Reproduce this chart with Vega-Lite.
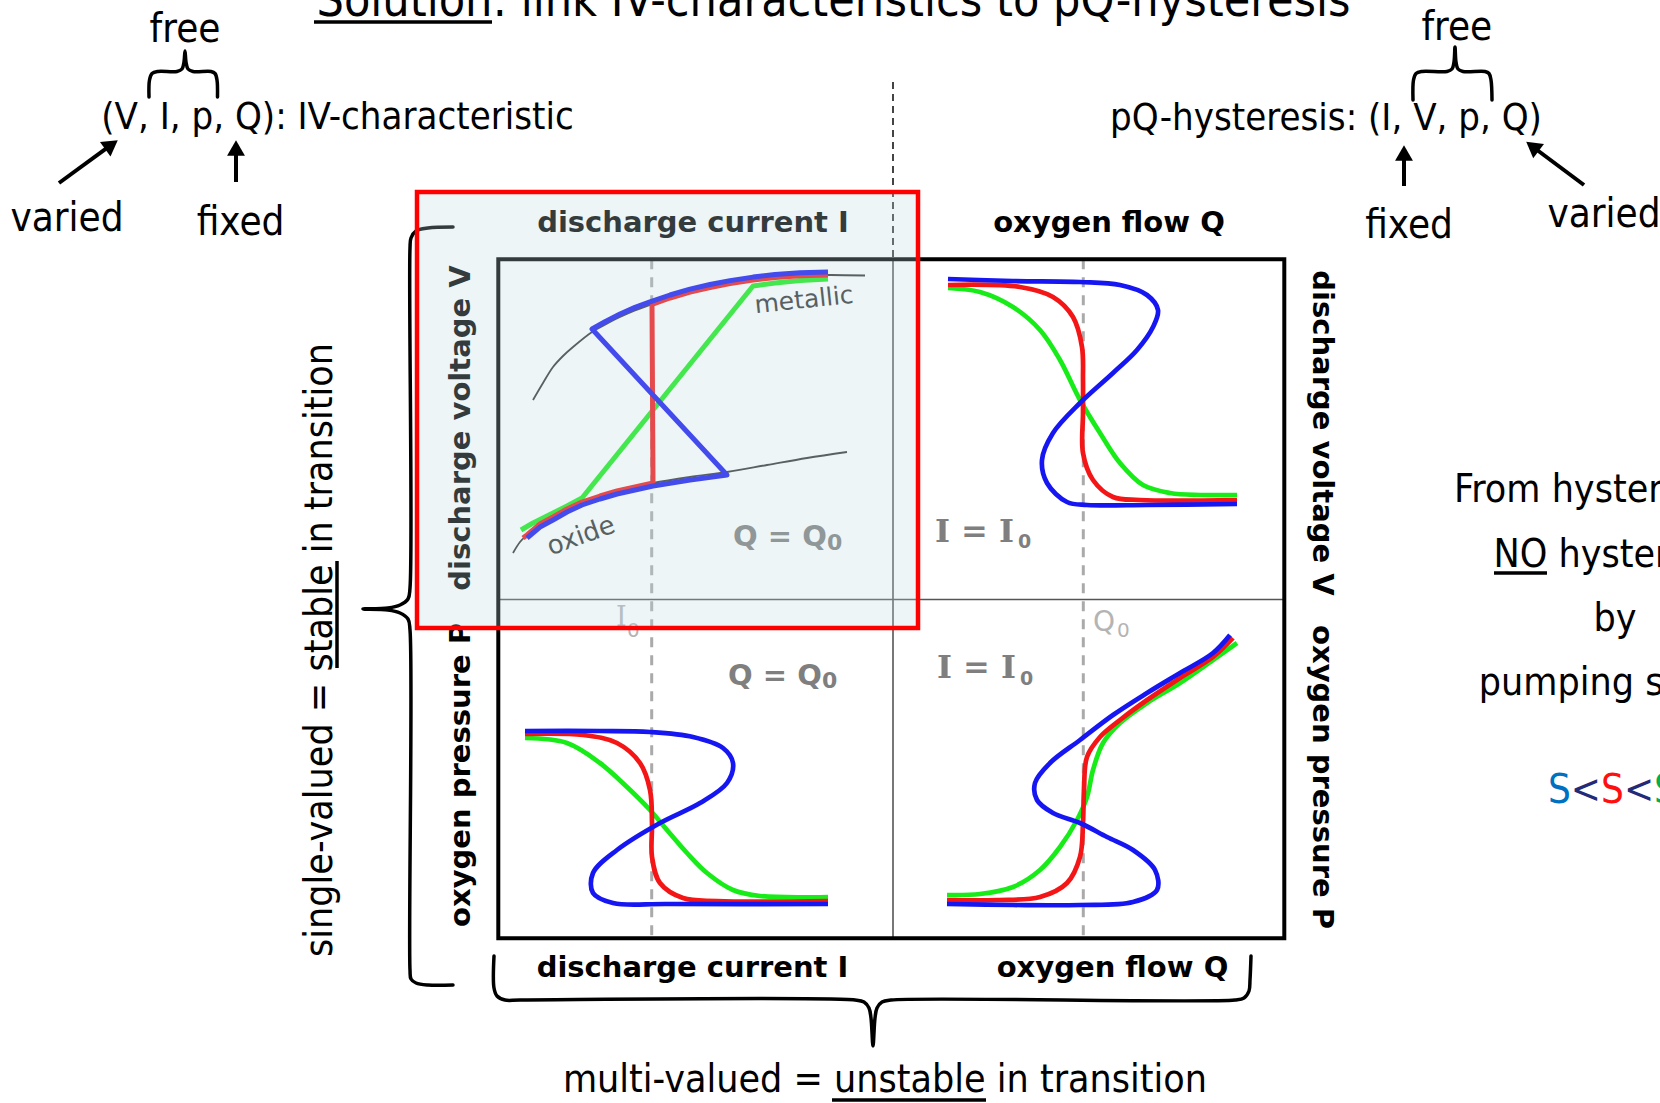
{
 "$schema": "https://vega.github.io/schema/vega-lite/v6.json",
 "width": 1660, "height": 1103, "padding": 0,
 "autosize": {"type": "none"},
 "background": "white",
 "config": {"view": {"stroke": null}},
 "resolve": {"scale": {"color": "independent"}},
 "datasets": {
  "rects": [
   {"k": "frame", "x": 498.3, "x2": 1284.3, "y": 259.3, "y2": 938.3},
   {"k": "focus", "x": 417, "x2": 918, "y": 192, "y2": 628}
  ],
  "rules": [
   {"k": "div", "x": 893, "y": 259.3, "x2": 893, "y2": 938.3},
   {"k": "div", "x": 498.3, "y": 599.5, "x2": 1284.3, "y2": 599.5},
   {"k": "gdash", "x": 651.7, "y": 259.3, "x2": 651.7, "y2": 938.3},
   {"k": "gdash", "x": 1083.3, "y": 259.3, "x2": 1083.3, "y2": 938.3},
   {"k": "kdash", "x": 893, "y": 82, "x2": 893, "y2": 259.3},
   {"k": "arrow", "x": 59, "y": 183, "x2": 111.5, "y2": 144.7},
   {"k": "arrow", "x": 236, "y": 182, "x2": 236, "y2": 148},
   {"k": "arrow", "x": 1404, "y": 186, "x2": 1404, "y2": 153},
   {"k": "arrow", "x": 1584, "y": 185, "x2": 1532.4, "y2": 146.5},
   {"k": "ul", "x": 314, "y": 22, "x2": 492, "y2": 22},
   {"k": "ul", "x": 337, "y": 561, "x2": 337, "y2": 668},
   {"k": "ul", "x": 832, "y": 1100, "x2": 986, "y2": 1100},
   {"k": "ul", "x": 1494, "y": 573, "x2": 1547, "y2": 573}
  ],
  "heads": [
   {"d": "ur", "x": 111.5, "y": 144.7},
   {"d": "up", "x": 236, "y": 148},
   {"d": "up", "x": 1404, "y": 153},
   {"d": "ul", "x": 1532.4, "y": 146.5}
  ],
  "refcurves": [
   {"g": "up", "i": 0, "x": 533, "y": 400}, {"g": "up", "i": 1, "x": 543, "y": 383}, {"g": "up", "i": 2, "x": 553, "y": 367}, {"g": "up", "i": 3, "x": 563, "y": 356}, {"g": "up", "i": 4, "x": 573, "y": 347}, {"g": "up", "i": 5, "x": 592, "y": 332}, {"g": "up", "i": 6, "x": 605, "y": 324.7}, {"g": "up", "i": 7, "x": 620, "y": 317}, {"g": "up", "i": 8, "x": 635, "y": 310.4}, {"g": "up", "i": 9, "x": 650, "y": 304.8}, {"g": "up", "i": 10, "x": 670, "y": 298}, {"g": "up", "i": 11, "x": 690, "y": 292.1}, {"g": "up", "i": 12, "x": 710, "y": 287.5}, {"g": "up", "i": 13, "x": 730, "y": 283.6}, {"g": "up", "i": 14, "x": 753, "y": 280.1}, {"g": "up", "i": 15, "x": 775, "y": 277.5}, {"g": "up", "i": 16, "x": 800, "y": 275.7}, {"g": "up", "i": 17, "x": 828, "y": 275}, {"g": "up", "i": 18, "x": 865, "y": 275.5},
   {"g": "lo", "i": 0, "x": 513, "y": 553}, {"g": "lo", "i": 1, "x": 520, "y": 542}, {"g": "lo", "i": 2, "x": 527, "y": 535}, {"g": "lo", "i": 3, "x": 540, "y": 524}, {"g": "lo", "i": 4, "x": 553, "y": 517}, {"g": "lo", "i": 5, "x": 567, "y": 509}, {"g": "lo", "i": 6, "x": 582, "y": 502}, {"g": "lo", "i": 7, "x": 600, "y": 496}, {"g": "lo", "i": 8, "x": 617, "y": 491}, {"g": "lo", "i": 9, "x": 635, "y": 487}, {"g": "lo", "i": 10, "x": 653, "y": 483}, {"g": "lo", "i": 11, "x": 690, "y": 477}, {"g": "lo", "i": 12, "x": 727, "y": 472}, {"g": "lo", "i": 13, "x": 767, "y": 465}, {"g": "lo", "i": 14, "x": 807, "y": 458}, {"g": "lo", "i": 15, "x": 847, "y": 452}
  ],
  "ivcurves": [
   {"c": "green", "i": 0, "x": 521, "y": 530}, {"c": "green", "i": 1, "x": 533, "y": 523}, {"c": "green", "i": 2, "x": 553, "y": 513}, {"c": "green", "i": 3, "x": 567, "y": 506}, {"c": "green", "i": 4, "x": 582, "y": 498}, {"c": "green", "i": 5, "x": 753, "y": 286}, {"c": "green", "i": 6, "x": 775, "y": 283}, {"c": "green", "i": 7, "x": 800, "y": 280.5}, {"c": "green", "i": 8, "x": 828, "y": 279},
   {"c": "red", "i": 0, "x": 523, "y": 538}, {"c": "red", "i": 1, "x": 527, "y": 535}, {"c": "red", "i": 2, "x": 540, "y": 524}, {"c": "red", "i": 3, "x": 553, "y": 517}, {"c": "red", "i": 4, "x": 567, "y": 509}, {"c": "red", "i": 5, "x": 582, "y": 502}, {"c": "red", "i": 6, "x": 600, "y": 496}, {"c": "red", "i": 7, "x": 617, "y": 491}, {"c": "red", "i": 8, "x": 635, "y": 487}, {"c": "red", "i": 9, "x": 653, "y": 483}, {"c": "red", "i": 10, "x": 652, "y": 304.3}, {"c": "red", "i": 11, "x": 670, "y": 298}, {"c": "red", "i": 12, "x": 690, "y": 292.1}, {"c": "red", "i": 13, "x": 710, "y": 287.5}, {"c": "red", "i": 14, "x": 730, "y": 283.6}, {"c": "red", "i": 15, "x": 753, "y": 280.1}, {"c": "red", "i": 16, "x": 775, "y": 277.5}, {"c": "red", "i": 17, "x": 800, "y": 275.7}, {"c": "red", "i": 18, "x": 828, "y": 275},
   {"c": "blue", "i": 0, "x": 527, "y": 538}, {"c": "blue", "i": 1, "x": 540, "y": 527}, {"c": "blue", "i": 2, "x": 553, "y": 520}, {"c": "blue", "i": 3, "x": 567, "y": 512}, {"c": "blue", "i": 4, "x": 582, "y": 505}, {"c": "blue", "i": 5, "x": 600, "y": 499}, {"c": "blue", "i": 6, "x": 617, "y": 494}, {"c": "blue", "i": 7, "x": 635, "y": 490}, {"c": "blue", "i": 8, "x": 653, "y": 486}, {"c": "blue", "i": 9, "x": 690, "y": 480}, {"c": "blue", "i": 10, "x": 727, "y": 475}, {"c": "blue", "i": 11, "x": 592, "y": 329}, {"c": "blue", "i": 12, "x": 605, "y": 321.7}, {"c": "blue", "i": 13, "x": 620, "y": 314}, {"c": "blue", "i": 14, "x": 635, "y": 307.4}, {"c": "blue", "i": 15, "x": 650, "y": 301.8}, {"c": "blue", "i": 16, "x": 670, "y": 295}, {"c": "blue", "i": 17, "x": 690, "y": 289.1}, {"c": "blue", "i": 18, "x": 710, "y": 284.5}, {"c": "blue", "i": 19, "x": 730, "y": 280.6}, {"c": "blue", "i": 20, "x": 753, "y": 277.1}, {"c": "blue", "i": 21, "x": 775, "y": 274.5}, {"c": "blue", "i": 22, "x": 800, "y": 272.7}, {"c": "blue", "i": 23, "x": 828, "y": 272}
  ],
  "scurves": [
   {"g": "vq-1green", "c": "green", "i": 0, "x": 948, "y": 288}, {"g": "vq-1green", "c": "green", "i": 1, "x": 980, "y": 292}, {"g": "vq-1green", "c": "green", "i": 2, "x": 1013, "y": 307}, {"g": "vq-1green", "c": "green", "i": 3, "x": 1040, "y": 330}, {"g": "vq-1green", "c": "green", "i": 4, "x": 1060, "y": 360}, {"g": "vq-1green", "c": "green", "i": 5, "x": 1080, "y": 400}, {"g": "vq-1green", "c": "green", "i": 6, "x": 1100, "y": 433}, {"g": "vq-1green", "c": "green", "i": 7, "x": 1120, "y": 463}, {"g": "vq-1green", "c": "green", "i": 8, "x": 1143, "y": 485}, {"g": "vq-1green", "c": "green", "i": 9, "x": 1170, "y": 493}, {"g": "vq-1green", "c": "green", "i": 10, "x": 1200, "y": 495}, {"g": "vq-1green", "c": "green", "i": 11, "x": 1237, "y": 495},
   {"g": "vq-2red", "c": "red", "i": 0, "x": 948, "y": 285}, {"g": "vq-2red", "c": "red", "i": 1, "x": 1020, "y": 287}, {"g": "vq-2red", "c": "red", "i": 2, "x": 1053, "y": 297}, {"g": "vq-2red", "c": "red", "i": 3, "x": 1073, "y": 317}, {"g": "vq-2red", "c": "red", "i": 4, "x": 1082, "y": 347}, {"g": "vq-2red", "c": "red", "i": 5, "x": 1083, "y": 380}, {"g": "vq-2red", "c": "red", "i": 6, "x": 1083, "y": 413}, {"g": "vq-2red", "c": "red", "i": 7, "x": 1083, "y": 453}, {"g": "vq-2red", "c": "red", "i": 8, "x": 1093, "y": 480}, {"g": "vq-2red", "c": "red", "i": 9, "x": 1113, "y": 497}, {"g": "vq-2red", "c": "red", "i": 10, "x": 1140, "y": 500}, {"g": "vq-2red", "c": "red", "i": 11, "x": 1237, "y": 500},
   {"g": "vq-3blue", "c": "blue", "i": 0, "x": 948, "y": 279}, {"g": "vq-3blue", "c": "blue", "i": 1, "x": 1013, "y": 281}, {"g": "vq-3blue", "c": "blue", "i": 2, "x": 1080, "y": 282}, {"g": "vq-3blue", "c": "blue", "i": 3, "x": 1120, "y": 285}, {"g": "vq-3blue", "c": "blue", "i": 4, "x": 1147, "y": 295}, {"g": "vq-3blue", "c": "blue", "i": 5, "x": 1158, "y": 310}, {"g": "vq-3blue", "c": "blue", "i": 6, "x": 1153, "y": 327}, {"g": "vq-3blue", "c": "blue", "i": 7, "x": 1137, "y": 350}, {"g": "vq-3blue", "c": "blue", "i": 8, "x": 1113, "y": 373}, {"g": "vq-3blue", "c": "blue", "i": 9, "x": 1080, "y": 403}, {"g": "vq-3blue", "c": "blue", "i": 10, "x": 1053, "y": 433}, {"g": "vq-3blue", "c": "blue", "i": 11, "x": 1042, "y": 460}, {"g": "vq-3blue", "c": "blue", "i": 12, "x": 1047, "y": 483}, {"g": "vq-3blue", "c": "blue", "i": 13, "x": 1067, "y": 502}, {"g": "vq-3blue", "c": "blue", "i": 14, "x": 1087, "y": 505}, {"g": "vq-3blue", "c": "blue", "i": 15, "x": 1147, "y": 505}, {"g": "vq-3blue", "c": "blue", "i": 16, "x": 1237, "y": 504},
   {"g": "pi-1green", "c": "green", "i": 0, "x": 525, "y": 738}, {"g": "pi-1green", "c": "green", "i": 1, "x": 567, "y": 743}, {"g": "pi-1green", "c": "green", "i": 2, "x": 600, "y": 763}, {"g": "pi-1green", "c": "green", "i": 3, "x": 627, "y": 787}, {"g": "pi-1green", "c": "green", "i": 4, "x": 650, "y": 810}, {"g": "pi-1green", "c": "green", "i": 5, "x": 667, "y": 830}, {"g": "pi-1green", "c": "green", "i": 6, "x": 687, "y": 853}, {"g": "pi-1green", "c": "green", "i": 7, "x": 707, "y": 873}, {"g": "pi-1green", "c": "green", "i": 8, "x": 733, "y": 890}, {"g": "pi-1green", "c": "green", "i": 9, "x": 760, "y": 896}, {"g": "pi-1green", "c": "green", "i": 10, "x": 828, "y": 897},
   {"g": "pi-2red", "c": "red", "i": 0, "x": 525, "y": 734}, {"g": "pi-2red", "c": "red", "i": 1, "x": 583, "y": 735}, {"g": "pi-2red", "c": "red", "i": 2, "x": 617, "y": 743}, {"g": "pi-2red", "c": "red", "i": 3, "x": 640, "y": 763}, {"g": "pi-2red", "c": "red", "i": 4, "x": 650, "y": 790}, {"g": "pi-2red", "c": "red", "i": 5, "x": 652, "y": 823}, {"g": "pi-2red", "c": "red", "i": 6, "x": 652, "y": 857}, {"g": "pi-2red", "c": "red", "i": 7, "x": 660, "y": 883}, {"g": "pi-2red", "c": "red", "i": 8, "x": 683, "y": 898}, {"g": "pi-2red", "c": "red", "i": 9, "x": 717, "y": 901}, {"g": "pi-2red", "c": "red", "i": 10, "x": 828, "y": 901},
   {"g": "pi-3blue", "c": "blue", "i": 0, "x": 525, "y": 731}, {"g": "pi-3blue", "c": "blue", "i": 1, "x": 600, "y": 731}, {"g": "pi-3blue", "c": "blue", "i": 2, "x": 650, "y": 732}, {"g": "pi-3blue", "c": "blue", "i": 3, "x": 693, "y": 737}, {"g": "pi-3blue", "c": "blue", "i": 4, "x": 723, "y": 748}, {"g": "pi-3blue", "c": "blue", "i": 5, "x": 733, "y": 763}, {"g": "pi-3blue", "c": "blue", "i": 6, "x": 727, "y": 783}, {"g": "pi-3blue", "c": "blue", "i": 7, "x": 700, "y": 803}, {"g": "pi-3blue", "c": "blue", "i": 8, "x": 660, "y": 823}, {"g": "pi-3blue", "c": "blue", "i": 9, "x": 617, "y": 850}, {"g": "pi-3blue", "c": "blue", "i": 10, "x": 593, "y": 873}, {"g": "pi-3blue", "c": "blue", "i": 11, "x": 593, "y": 893}, {"g": "pi-3blue", "c": "blue", "i": 12, "x": 613, "y": 903}, {"g": "pi-3blue", "c": "blue", "i": 13, "x": 667, "y": 904}, {"g": "pi-3blue", "c": "blue", "i": 14, "x": 828, "y": 904},
   {"g": "pq-1green", "c": "green", "i": 0, "x": 947, "y": 895}, {"g": "pq-1green", "c": "green", "i": 1, "x": 980, "y": 894}, {"g": "pq-1green", "c": "green", "i": 2, "x": 1013, "y": 887}, {"g": "pq-1green", "c": "green", "i": 3, "x": 1040, "y": 870}, {"g": "pq-1green", "c": "green", "i": 4, "x": 1060, "y": 847}, {"g": "pq-1green", "c": "green", "i": 5, "x": 1077, "y": 820}, {"g": "pq-1green", "c": "green", "i": 6, "x": 1087, "y": 797}, {"g": "pq-1green", "c": "green", "i": 7, "x": 1093, "y": 770}, {"g": "pq-1green", "c": "green", "i": 8, "x": 1103, "y": 743}, {"g": "pq-1green", "c": "green", "i": 9, "x": 1120, "y": 723}, {"g": "pq-1green", "c": "green", "i": 10, "x": 1147, "y": 703}, {"g": "pq-1green", "c": "green", "i": 11, "x": 1180, "y": 683}, {"g": "pq-1green", "c": "green", "i": 12, "x": 1213, "y": 660}, {"g": "pq-1green", "c": "green", "i": 13, "x": 1237, "y": 643},
   {"g": "pq-2red", "c": "red", "i": 0, "x": 947, "y": 900}, {"g": "pq-2red", "c": "red", "i": 1, "x": 997, "y": 900}, {"g": "pq-2red", "c": "red", "i": 2, "x": 1040, "y": 897}, {"g": "pq-2red", "c": "red", "i": 3, "x": 1067, "y": 883}, {"g": "pq-2red", "c": "red", "i": 4, "x": 1080, "y": 857}, {"g": "pq-2red", "c": "red", "i": 5, "x": 1083, "y": 823}, {"g": "pq-2red", "c": "red", "i": 6, "x": 1084, "y": 790}, {"g": "pq-2red", "c": "red", "i": 7, "x": 1087, "y": 757}, {"g": "pq-2red", "c": "red", "i": 8, "x": 1100, "y": 737}, {"g": "pq-2red", "c": "red", "i": 9, "x": 1120, "y": 720}, {"g": "pq-2red", "c": "red", "i": 10, "x": 1147, "y": 700}, {"g": "pq-2red", "c": "red", "i": 11, "x": 1180, "y": 678}, {"g": "pq-2red", "c": "red", "i": 12, "x": 1213, "y": 657}, {"g": "pq-2red", "c": "red", "i": 13, "x": 1233, "y": 638},
   {"g": "pq-3blue", "c": "blue", "i": 0, "x": 947, "y": 904}, {"g": "pq-3blue", "c": "blue", "i": 1, "x": 1013, "y": 905}, {"g": "pq-3blue", "c": "blue", "i": 2, "x": 1080, "y": 905}, {"g": "pq-3blue", "c": "blue", "i": 3, "x": 1133, "y": 902}, {"g": "pq-3blue", "c": "blue", "i": 4, "x": 1157, "y": 890}, {"g": "pq-3blue", "c": "blue", "i": 5, "x": 1155, "y": 870}, {"g": "pq-3blue", "c": "blue", "i": 6, "x": 1133, "y": 850}, {"g": "pq-3blue", "c": "blue", "i": 7, "x": 1107, "y": 837}, {"g": "pq-3blue", "c": "blue", "i": 8, "x": 1080, "y": 823}, {"g": "pq-3blue", "c": "blue", "i": 9, "x": 1053, "y": 813}, {"g": "pq-3blue", "c": "blue", "i": 10, "x": 1037, "y": 800}, {"g": "pq-3blue", "c": "blue", "i": 11, "x": 1035, "y": 783}, {"g": "pq-3blue", "c": "blue", "i": 12, "x": 1050, "y": 763}, {"g": "pq-3blue", "c": "blue", "i": 13, "x": 1080, "y": 740}, {"g": "pq-3blue", "c": "blue", "i": 14, "x": 1113, "y": 715}, {"g": "pq-3blue", "c": "blue", "i": 15, "x": 1147, "y": 693}, {"g": "pq-3blue", "c": "blue", "i": 16, "x": 1180, "y": 673}, {"g": "pq-3blue", "c": "blue", "i": 17, "x": 1213, "y": 653}, {"g": "pq-3blue", "c": "blue", "i": 18, "x": 1230, "y": 635}
  ],
  "braces": [
   {"g": "bl", "i": 0, "x": 453, "y": 227}, {"g": "bl", "i": 1, "x": 428, "y": 228}, {"g": "bl", "i": 2, "x": 416, "y": 231}, {"g": "bl", "i": 3, "x": 411, "y": 238}, {"g": "bl", "i": 4, "x": 410, "y": 248}, {"g": "bl", "i": 5, "x": 410, "y": 588}, {"g": "bl", "i": 6, "x": 408, "y": 599}, {"g": "bl", "i": 7, "x": 400, "y": 605}, {"g": "bl", "i": 8, "x": 388, "y": 608}, {"g": "bl", "i": 9, "x": 363, "y": 609}, {"g": "bl", "i": 10, "x": 388, "y": 610}, {"g": "bl", "i": 11, "x": 400, "y": 613}, {"g": "bl", "i": 12, "x": 408, "y": 619}, {"g": "bl", "i": 13, "x": 410, "y": 630}, {"g": "bl", "i": 14, "x": 410, "y": 970}, {"g": "bl", "i": 15, "x": 411, "y": 979}, {"g": "bl", "i": 16, "x": 416, "y": 983}, {"g": "bl", "i": 17, "x": 428, "y": 985}, {"g": "bl", "i": 18, "x": 453, "y": 985},
   {"g": "bb", "i": 0, "x": 494, "y": 956}, {"g": "bb", "i": 1, "x": 494, "y": 988}, {"g": "bb", "i": 2, "x": 497, "y": 996}, {"g": "bb", "i": 3, "x": 505, "y": 1000}, {"g": "bb", "i": 4, "x": 520, "y": 1000}, {"g": "bb", "i": 5, "x": 855, "y": 1000}, {"g": "bb", "i": 6, "x": 864, "y": 1002}, {"g": "bb", "i": 7, "x": 869, "y": 1008}, {"g": "bb", "i": 8, "x": 871, "y": 1018}, {"g": "bb", "i": 9, "x": 873, "y": 1046}, {"g": "bb", "i": 10, "x": 875, "y": 1018}, {"g": "bb", "i": 11, "x": 877, "y": 1008}, {"g": "bb", "i": 12, "x": 882, "y": 1002}, {"g": "bb", "i": 13, "x": 891, "y": 1000}, {"g": "bb", "i": 14, "x": 1235, "y": 1000}, {"g": "bb", "i": 15, "x": 1244, "y": 998}, {"g": "bb", "i": 16, "x": 1249, "y": 991}, {"g": "bb", "i": 17, "x": 1250, "y": 980}, {"g": "bb", "i": 18, "x": 1251, "y": 956},
   {"g": "sl", "i": 0, "x": 149, "y": 97}, {"g": "sl", "i": 1, "x": 149.5, "y": 80}, {"g": "sl", "i": 2, "x": 152, "y": 73.5}, {"g": "sl", "i": 3, "x": 158, "y": 71.5}, {"g": "sl", "i": 4, "x": 177, "y": 71.5}, {"g": "sl", "i": 5, "x": 182, "y": 69}, {"g": "sl", "i": 6, "x": 184, "y": 62}, {"g": "sl", "i": 7, "x": 185, "y": 51}, {"g": "sl", "i": 8, "x": 186, "y": 62}, {"g": "sl", "i": 9, "x": 188, "y": 69}, {"g": "sl", "i": 10, "x": 193, "y": 71.5}, {"g": "sl", "i": 11, "x": 211, "y": 71.5}, {"g": "sl", "i": 12, "x": 215, "y": 73.5}, {"g": "sl", "i": 13, "x": 217, "y": 80}, {"g": "sl", "i": 14, "x": 217.5, "y": 97},
   {"g": "sr", "i": 0, "x": 1413, "y": 100}, {"g": "sr", "i": 1, "x": 1413.5, "y": 80}, {"g": "sr", "i": 2, "x": 1416, "y": 73.5}, {"g": "sr", "i": 3, "x": 1422, "y": 71.5}, {"g": "sr", "i": 4, "x": 1447, "y": 71.5}, {"g": "sr", "i": 5, "x": 1452, "y": 69}, {"g": "sr", "i": 6, "x": 1454, "y": 62}, {"g": "sr", "i": 7, "x": 1455, "y": 47}, {"g": "sr", "i": 8, "x": 1456, "y": 62}, {"g": "sr", "i": 9, "x": 1458, "y": 69}, {"g": "sr", "i": 10, "x": 1463, "y": 71.5}, {"g": "sr", "i": 11, "x": 1485, "y": 71.5}, {"g": "sr", "i": 12, "x": 1489, "y": 73.5}, {"g": "sr", "i": 13, "x": 1491, "y": 80}, {"g": "sr", "i": 14, "x": 1492, "y": 100}
  ],
  "texts": [
   {"r": "title", "t": "Solution: link IV-characteristics to pQ-hysteresis", "x": 833.5, "y": 16},
   {"r": "word", "t": "free", "x": 185, "y": 41.7},
   {"r": "big", "t": "(V, I, p, Q): IV-characteristic", "x": 337.5, "y": 128.5},
   {"r": "word", "t": "varied", "x": 67, "y": 230.5},
   {"r": "word", "t": "fixed", "x": 240.5, "y": 235},
   {"r": "word", "t": "free", "x": 1456.8, "y": 40},
   {"r": "big", "t": "pQ-hysteresis: (I, V, p, Q)", "x": 1326, "y": 130},
   {"r": "word", "t": "fixed", "x": 1409, "y": 238},
   {"r": "word", "t": "varied", "x": 1604, "y": 227},
   {"r": "mid", "t": "multi-valued = unstable in transition", "x": 885, "y": 1092},
   {"r": "mid", "t": "From hysteresis to", "x": 1615, "y": 502},
   {"r": "mid", "t": "NO hysteresis", "x": 1615, "y": 567},
   {"r": "mid", "t": "by", "x": 1615, "y": 631},
   {"r": "mid", "t": "pumping speed", "x": 1615, "y": 695},
   {"r": "side", "t": "single-valued = stable in transition", "x": 332, "y": 650},
   {"r": "lab", "t": "discharge current I", "x": 693, "y": 231.5},
   {"r": "lab", "t": "oxygen flow Q", "x": 1109, "y": 231.5},
   {"r": "lab", "t": "discharge current I", "x": 692.5, "y": 977},
   {"r": "lab", "t": "oxygen flow Q", "x": 1112.5, "y": 977},
   {"r": "labL", "t": "discharge voltage V", "x": 470, "y": 428},
   {"r": "labL", "t": "oxygen pressure P", "x": 470, "y": 775},
   {"r": "labR", "t": "discharge voltage V", "x": 1313, "y": 433},
   {"r": "labR", "t": "oxygen pressure P", "x": 1313, "y": 777},
   {"r": "qmain", "t": "Q = Q", "x": 733, "y": 546},
   {"r": "qmain", "t": "Q = Q", "x": 728, "y": 685},
   {"r": "imain", "t": "I = I", "x": 935, "y": 542},
   {"r": "imain", "t": "I = I", "x": 937, "y": 678},
   {"r": "sub0", "t": "0", "x": 827, "y": 550},
   {"r": "sub0", "t": "0", "x": 822, "y": 688},
   {"r": "subi", "t": "0", "x": 1018, "y": 548},
   {"r": "subi", "t": "0", "x": 1020, "y": 684.5},
   {"r": "ltI", "t": "I", "x": 616, "y": 626},
   {"r": "ltQ", "t": "Q", "x": 1093, "y": 631},
   {"r": "ltsub", "t": "0", "x": 627, "y": 637},
   {"r": "ltsub", "t": "0", "x": 1117, "y": 637},
   {"r": "met", "t": "metallic", "x": 804, "y": 300},
   {"r": "ox", "t": "oxide", "x": 581, "y": 536}
  ],
  "sss": [
   {"t": "S", "c": "s1", "x": 1559.4, "y": 803},
   {"t": "<", "c": "lt", "x": 1585.9, "y": 803},
   {"t": "S", "c": "s2", "x": 1612.5, "y": 803},
   {"t": "<", "c": "lt", "x": 1639, "y": 803},
   {"t": "S", "c": "s3", "x": 1665.5, "y": 803}
  ]
 },
 "layer": [
  {"data": {"name": "rules"}, "transform": [{"filter": "datum.k === 'gdash'"}],
   "mark": {"type": "rule", "color": "#aaaaaa", "strokeWidth": 3, "strokeDash": [10, 8]},
   "encoding": {"x": {"field": "x", "type": "quantitative", "scale": {"domain": [0, 1660], "nice": false, "zero": false}, "axis": null},
     "y": {"field": "y", "type": "quantitative", "scale": {"domain": [0, 1103], "nice": false, "zero": false, "reverse": true}, "axis": null},
     "x2": {"field": "x2"}, "y2": {"field": "y2"}}},
  {"data": {"name": "rules"}, "transform": [{"filter": "datum.k === 'div'"}],
   "mark": {"type": "rule", "color": "#555555", "strokeWidth": 1.6},
   "encoding": {"x": {"field": "x", "type": "quantitative", "axis": null}, "y": {"field": "y", "type": "quantitative", "axis": null}, "x2": {"field": "x2"}, "y2": {"field": "y2"}}},
  {"data": {"name": "rules"}, "transform": [{"filter": "datum.k === 'kdash'"}],
   "mark": {"type": "rule", "color": "#444444", "strokeWidth": 2, "strokeDash": [7, 5]},
   "encoding": {"x": {"field": "x", "type": "quantitative", "axis": null}, "y": {"field": "y", "type": "quantitative", "axis": null}, "x2": {"field": "x2"}, "y2": {"field": "y2"}}},
  {"data": {"name": "rects"}, "transform": [{"filter": "datum.k === 'frame'"}],
   "mark": {"type": "rect", "fill": null, "fillOpacity": 0, "stroke": "#000000", "strokeWidth": 4},
   "encoding": {"x": {"field": "x", "type": "quantitative", "axis": null}, "y": {"field": "y", "type": "quantitative", "axis": null}, "x2": {"field": "x2"}, "y2": {"field": "y2"}}},
  {"data": {"name": "refcurves"},
   "mark": {"type": "line", "color": "#333333", "strokeWidth": 1.8, "interpolate": "catmull-rom"},
   "encoding": {"x": {"field": "x", "type": "quantitative", "axis": null}, "y": {"field": "y", "type": "quantitative", "axis": null}, "detail": {"field": "g"}, "order": {"field": "i", "type": "quantitative"}}},
  {"data": {"name": "ivcurves"},
   "mark": {"type": "line", "strokeWidth": 5, "interpolate": "linear", "strokeJoin": "round"},
   "encoding": {"x": {"field": "x", "type": "quantitative", "axis": null}, "y": {"field": "y", "type": "quantitative", "axis": null},
     "color": {"field": "c", "type": "nominal", "scale": {"domain": ["green", "red", "blue"], "range": ["#18ec18", "#f41616", "#1616f2"]}, "legend": null},
     "order": {"field": "i", "type": "quantitative"}}},
  {"data": {"name": "scurves"},
   "mark": {"type": "line", "strokeWidth": 4.7, "interpolate": "catmull-rom"},
   "encoding": {"x": {"field": "x", "type": "quantitative", "axis": null}, "y": {"field": "y", "type": "quantitative", "axis": null},
     "color": {"field": "c", "type": "nominal", "scale": {"domain": ["green", "red", "blue"], "range": ["#18ec18", "#f41616", "#1616f2"]}, "legend": null},
     "detail": {"field": "g"}, "order": {"field": "i", "type": "quantitative"}}},
  {"data": {"name": "braces"},
   "mark": {"type": "line", "color": "#000000", "strokeWidth": 3.5, "interpolate": "catmull-rom", "strokeCap": "round"},
   "encoding": {"x": {"field": "x", "type": "quantitative", "axis": null}, "y": {"field": "y", "type": "quantitative", "axis": null}, "detail": {"field": "g"}, "order": {"field": "i", "type": "quantitative"}}},
  {"data": {"name": "rules"}, "transform": [{"filter": "datum.k === 'arrow'"}],
   "mark": {"type": "rule", "color": "#000000", "strokeWidth": 4},
   "encoding": {"x": {"field": "x", "type": "quantitative", "axis": null}, "y": {"field": "y", "type": "quantitative", "axis": null}, "x2": {"field": "x2"}, "y2": {"field": "y2"}}},
  {"data": {"name": "rules"}, "transform": [{"filter": "datum.k === 'ul'"}],
   "mark": {"type": "rule", "color": "#000000", "strokeWidth": 3.5},
   "encoding": {"x": {"field": "x", "type": "quantitative", "axis": null}, "y": {"field": "y", "type": "quantitative", "axis": null}, "x2": {"field": "x2"}, "y2": {"field": "y2"}}},
  {"data": {"name": "heads"}, "transform": [{"filter": "datum.d === 'up'"}],
   "mark": {"type": "point", "shape": "triangle-up", "filled": true, "color": "#000000", "size": 320, "opacity": 1, "angle": 0},
   "encoding": {"x": {"field": "x", "type": "quantitative", "axis": null}, "y": {"field": "y", "type": "quantitative", "axis": null}}},
  {"data": {"name": "heads"}, "transform": [{"filter": "datum.d === 'ur'"}],
   "mark": {"type": "point", "shape": "triangle-up", "filled": true, "color": "#000000", "size": 320, "opacity": 1, "angle": 54},
   "encoding": {"x": {"field": "x", "type": "quantitative", "axis": null}, "y": {"field": "y", "type": "quantitative", "axis": null}}},
  {"data": {"name": "heads"}, "transform": [{"filter": "datum.d === 'ul'"}],
   "mark": {"type": "point", "shape": "triangle-up", "filled": true, "color": "#000000", "size": 320, "opacity": 1, "angle": -53},
   "encoding": {"x": {"field": "x", "type": "quantitative", "axis": null}, "y": {"field": "y", "type": "quantitative", "axis": null}}},
  {"data": {"name": "texts"}, "transform": [{"filter": "datum.r === 'title'"}],
   "mark": {"type": "text", "font": "DejaVu Sans Condensed, sans-serif", "fontSize": 48, "align": "center", "baseline": "alphabetic", "color": "#000000"},
   "encoding": {"x": {"field": "x", "type": "quantitative", "axis": null}, "y": {"field": "y", "type": "quantitative", "axis": null}, "text": {"field": "t"}}},
  {"data": {"name": "texts"}, "transform": [{"filter": "datum.r === 'big'"}],
   "mark": {"type": "text", "font": "DejaVu Sans Condensed, sans-serif", "fontSize": 38, "align": "center", "baseline": "alphabetic", "color": "#000000"},
   "encoding": {"x": {"field": "x", "type": "quantitative", "axis": null}, "y": {"field": "y", "type": "quantitative", "axis": null}, "text": {"field": "t"}}},
  {"data": {"name": "texts"}, "transform": [{"filter": "datum.r === 'word'"}],
   "mark": {"type": "text", "font": "DejaVu Sans Condensed, sans-serif", "fontSize": 40, "align": "center", "baseline": "alphabetic", "color": "#000000"},
   "encoding": {"x": {"field": "x", "type": "quantitative", "axis": null}, "y": {"field": "y", "type": "quantitative", "axis": null}, "text": {"field": "t"}}},
  {"data": {"name": "texts"}, "transform": [{"filter": "datum.r === 'mid'"}],
   "mark": {"type": "text", "font": "DejaVu Sans Condensed, sans-serif", "fontSize": 39, "align": "center", "baseline": "alphabetic", "color": "#000000"},
   "encoding": {"x": {"field": "x", "type": "quantitative", "axis": null}, "y": {"field": "y", "type": "quantitative", "axis": null}, "text": {"field": "t"}}},
  {"data": {"name": "texts"}, "transform": [{"filter": "datum.r === 'side'"}],
   "mark": {"type": "text", "font": "DejaVu Sans Condensed, sans-serif", "fontSize": 39, "align": "center", "baseline": "alphabetic", "angle": 270, "color": "#000000"},
   "encoding": {"x": {"field": "x", "type": "quantitative", "axis": null}, "y": {"field": "y", "type": "quantitative", "axis": null}, "text": {"field": "t"}}},
  {"data": {"name": "texts"}, "transform": [{"filter": "datum.r === 'lab'"}],
   "mark": {"type": "text", "font": "DejaVu Sans", "fontWeight": "bold", "fontSize": 29, "align": "center", "baseline": "alphabetic", "color": "#000000"},
   "encoding": {"x": {"field": "x", "type": "quantitative", "axis": null}, "y": {"field": "y", "type": "quantitative", "axis": null}, "text": {"field": "t"}}},
  {"data": {"name": "texts"}, "transform": [{"filter": "datum.r === 'labL'"}],
   "mark": {"type": "text", "font": "DejaVu Sans", "fontWeight": "bold", "fontSize": 29, "align": "center", "baseline": "alphabetic", "angle": 270, "color": "#000000"},
   "encoding": {"x": {"field": "x", "type": "quantitative", "axis": null}, "y": {"field": "y", "type": "quantitative", "axis": null}, "text": {"field": "t"}}},
  {"data": {"name": "texts"}, "transform": [{"filter": "datum.r === 'labR'"}],
   "mark": {"type": "text", "font": "DejaVu Sans", "fontWeight": "bold", "fontSize": 29, "align": "center", "baseline": "alphabetic", "angle": 90, "color": "#000000"},
   "encoding": {"x": {"field": "x", "type": "quantitative", "axis": null}, "y": {"field": "y", "type": "quantitative", "axis": null}, "text": {"field": "t"}}},
  {"data": {"name": "texts"}, "transform": [{"filter": "datum.r === 'qmain'"}],
   "mark": {"type": "text", "font": "DejaVu Sans", "fontWeight": "bold", "fontSize": 29, "align": "left", "baseline": "alphabetic", "color": "#7f7f7f"},
   "encoding": {"x": {"field": "x", "type": "quantitative", "axis": null}, "y": {"field": "y", "type": "quantitative", "axis": null}, "text": {"field": "t"}}},
  {"data": {"name": "texts"}, "transform": [{"filter": "datum.r === 'imain'"}],
   "mark": {"type": "text", "font": "DejaVu Serif", "fontWeight": "bold", "fontSize": 32, "align": "left", "baseline": "alphabetic", "color": "#7f7f7f"},
   "encoding": {"x": {"field": "x", "type": "quantitative", "axis": null}, "y": {"field": "y", "type": "quantitative", "axis": null}, "text": {"field": "t"}}},
  {"data": {"name": "texts"}, "transform": [{"filter": "datum.r === 'sub0'"}],
   "mark": {"type": "text", "font": "DejaVu Sans", "fontWeight": "bold", "fontSize": 22, "align": "left", "baseline": "alphabetic", "color": "#7f7f7f"},
   "encoding": {"x": {"field": "x", "type": "quantitative", "axis": null}, "y": {"field": "y", "type": "quantitative", "axis": null}, "text": {"field": "t"}}},
  {"data": {"name": "texts"}, "transform": [{"filter": "datum.r === 'subi'"}],
   "mark": {"type": "text", "font": "DejaVu Sans", "fontWeight": "bold", "fontSize": 19, "align": "left", "baseline": "alphabetic", "color": "#7f7f7f"},
   "encoding": {"x": {"field": "x", "type": "quantitative", "axis": null}, "y": {"field": "y", "type": "quantitative", "axis": null}, "text": {"field": "t"}}},
  {"data": {"name": "texts"}, "transform": [{"filter": "datum.r === 'ltI'"}],
   "mark": {"type": "text", "font": "DejaVu Serif", "fontSize": 27, "align": "left", "baseline": "alphabetic", "color": "#b4b4b4"},
   "encoding": {"x": {"field": "x", "type": "quantitative", "axis": null}, "y": {"field": "y", "type": "quantitative", "axis": null}, "text": {"field": "t"}}},
  {"data": {"name": "texts"}, "transform": [{"filter": "datum.r === 'ltQ'"}],
   "mark": {"type": "text", "font": "DejaVu Sans", "fontSize": 28, "align": "left", "baseline": "alphabetic", "color": "#b4b4b4"},
   "encoding": {"x": {"field": "x", "type": "quantitative", "axis": null}, "y": {"field": "y", "type": "quantitative", "axis": null}, "text": {"field": "t"}}},
  {"data": {"name": "texts"}, "transform": [{"filter": "datum.r === 'ltsub'"}],
   "mark": {"type": "text", "font": "DejaVu Sans", "fontSize": 20, "align": "left", "baseline": "alphabetic", "color": "#b4b4b4"},
   "encoding": {"x": {"field": "x", "type": "quantitative", "axis": null}, "y": {"field": "y", "type": "quantitative", "axis": null}, "text": {"field": "t"}}},
  {"data": {"name": "texts"}, "transform": [{"filter": "datum.r === 'met'"}],
   "mark": {"type": "text", "font": "DejaVu Sans", "fontSize": 25, "align": "center", "baseline": "middle", "angle": -6, "color": "#333333"},
   "encoding": {"x": {"field": "x", "type": "quantitative", "axis": null}, "y": {"field": "y", "type": "quantitative", "axis": null}, "text": {"field": "t"}}},
  {"data": {"name": "texts"}, "transform": [{"filter": "datum.r === 'ox'"}],
   "mark": {"type": "text", "font": "DejaVu Sans", "fontSize": 26, "align": "center", "baseline": "middle", "angle": -20, "color": "#333333"},
   "encoding": {"x": {"field": "x", "type": "quantitative", "axis": null}, "y": {"field": "y", "type": "quantitative", "axis": null}, "text": {"field": "t"}}},
  {"data": {"name": "sss"},
   "mark": {"type": "text", "font": "DejaVu Sans Condensed, sans-serif", "fontSize": 40, "align": "center", "baseline": "alphabetic"},
   "encoding": {"x": {"field": "x", "type": "quantitative", "axis": null}, "y": {"field": "y", "type": "quantitative", "axis": null}, "text": {"field": "t"},
     "color": {"field": "c", "type": "nominal", "scale": {"domain": ["s1", "lt", "s2", "s3"], "range": ["#0070c0", "#232a78", "#ff1010", "#00b050"]}, "legend": null}}},
  {"data": {"name": "rects"}, "transform": [{"filter": "datum.k === 'focus'"}],
   "mark": {"type": "rect", "fill": "#bddae2", "fillOpacity": 0.27, "stroke": "#ff0000", "strokeWidth": 4.5, "strokeOpacity": 1},
   "encoding": {"x": {"field": "x", "type": "quantitative", "axis": null}, "y": {"field": "y", "type": "quantitative", "axis": null}, "x2": {"field": "x2"}, "y2": {"field": "y2"}}}
 ]
}
